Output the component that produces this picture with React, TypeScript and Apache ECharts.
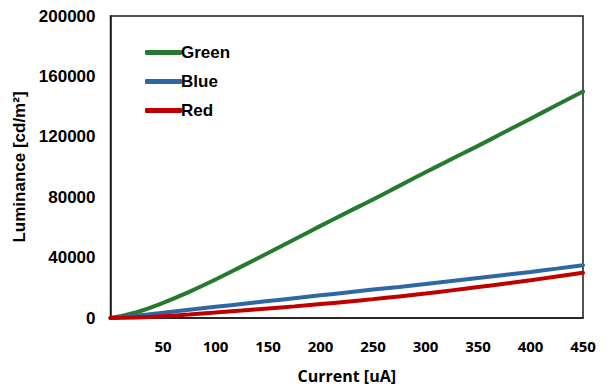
import React, { useEffect, useRef } from "react";
import * as echarts from "echarts";

const current = [0, 25, 50, 75, 100, 125, 150, 175, 200, 225, 250, 275, 300, 325, 350, 375, 400, 425, 450];
const green = [0, 3800, 10000, 17300, 25500, 34200, 43000, 52000, 61000, 69800, 78500, 87500, 96500, 105300, 114000, 123000, 132000, 141000, 150000];
const blue = [0, 1600, 3500, 5500, 7400, 9300, 11200, 13100, 15000, 16900, 18800, 20600, 22500, 24500, 26500, 28500, 30500, 32700, 35000];
const red = [0, 300, 1100, 2300, 3600, 4900, 6300, 7700, 9200, 10800, 12500, 14300, 16200, 18300, 20500, 22700, 25000, 27500, 30000];
const seriesNames = ["Green", "Blue", "Red"];
const seriesColors = ["#267a2f", "#2e68a3", "#c00000"];
const xTitle = "Current [uA]";
const yTitle = "Luminance [cd/m²]";

const AR = "'Liberation Sans', Arial, sans-serif";
const OS = "'Open Sans', 'Liberation Sans', sans-serif";

export default function App() {
  const ref = useRef<HTMLDivElement>(null);
  useEffect(() => {
    if (!ref.current) return;
    const chart = echarts.init(ref.current, null, { renderer: "svg" });
    const all = [green, blue, red];
    chart.setOption({
      animation: false,
      backgroundColor: "#ffffff",
      grid: {
        left: 110.5,
        top: 16,
        right: 25,
        bottom: 67.5,
        show: true,
        borderColor: "#1a1a1a",
        borderWidth: 1.5,
      },
      legend: {
        orient: "vertical",
        left: 140,
        top: 39,
        itemWidth: 37,
        itemHeight: 5,
        itemGap: 12,
        icon: "roundRect",
        textStyle: {
          fontFamily: AR,
          fontWeight: "bold",
          fontSize: 17,
          color: "#000",
          padding: [0, 0, 0, -6],
        },
        data: seriesNames,
      },
      xAxis: {
        type: "value",
        min: 0,
        max: 450,
        interval: 50,
        name: xTitle,
        nameLocation: "middle",
        nameGap: 50,
        nameTextStyle: { fontFamily: OS, fontWeight: "bold", fontSize: 16, color: "#000" },
        axisLine: { show: true, lineStyle: { color: "#1a1a1a", width: 1.5 } },
        axisTick: { show: false },
        splitLine: { show: false },
        axisLabel: {
          showMinLabel: false,
          margin: 20,
          fontFamily: OS,
          fontWeight: "bold",
          fontSize: 15,
          color: "#000",
        },
      },
      yAxis: {
        type: "value",
        min: 0,
        max: 200000,
        interval: 40000,
        name: yTitle,
        nameLocation: "middle",
        nameGap: 76,
        nameTextStyle: { fontFamily: AR, fontWeight: "bold", fontSize: 17, color: "#000" },
        axisLine: { show: true, lineStyle: { color: "#1a1a1a", width: 1.5 } },
        axisTick: { show: false },
        splitLine: { show: false },
        axisLabel: {
          margin: 15,
          fontFamily: AR,
          fontWeight: "bold",
          fontSize: 17,
          color: "#000",
          formatter: (v: number) => String(v),
        },
      },
      series: seriesNames.map((n, i) => ({
        name: n,
        type: "line",
        smooth: true,
        showSymbol: false,
        symbol: "none",
        color: seriesColors[i],
        lineStyle: { width: 4, color: seriesColors[i], cap: "round" },
        data: current.map((c, j) => [c, all[i][j]]),
      })),
    });
    return () => chart.dispose();
  }, []);
  return (
    <div
      ref={ref}
      style={{ position: "fixed", left: 0, top: 0, width: 608, height: 389, background: "#fff" }}
    />
  );
}
